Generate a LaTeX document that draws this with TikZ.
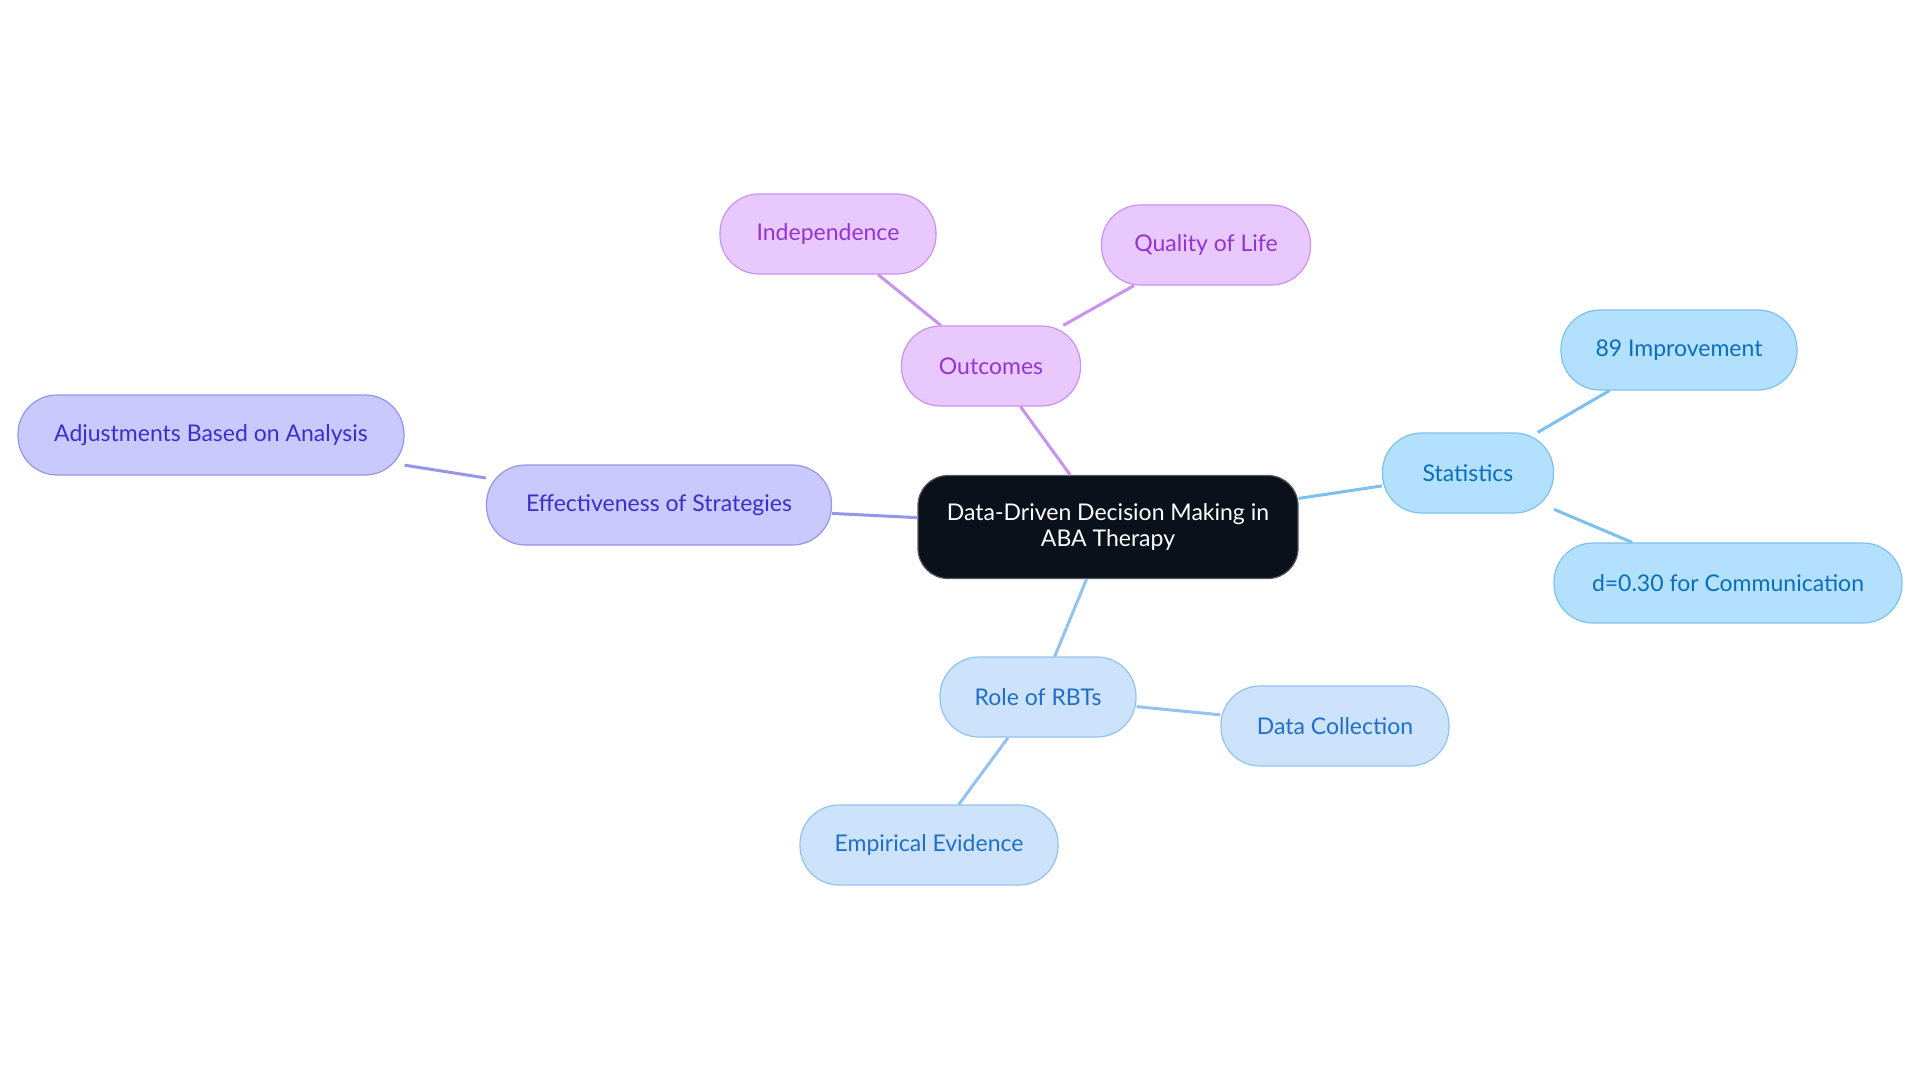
\documentclass[tikz,border=0pt]{standalone}
\usepackage{fontspec}
\setmainfont{Lato}
\begin{document}
\begin{tikzpicture}[x=1pt,y=-1pt,
  box/.style={rectangle,rounded corners=39pt,minimum height=80pt,inner sep=0pt,line width=1.2pt,font=\fontsize{23}{26}\selectfont,align=center},
  sky/.style={box,fill=sky1,draw=sky2,text=sky3},
  pur/.style={box,fill=pur1,draw=pur2,text=pur3},
  ind/.style={box,fill=ind1,draw=ind2,text=ind3},
  blu/.style={box,fill=blu1,draw=blu2,text=blu3},
  edge/.style={line width=3pt}]
\definecolor{sky1}{HTML}{B3E0FD}\definecolor{sky2}{HTML}{7CC0F0}\definecolor{sky3}{HTML}{0A6EBD}
\definecolor{pur1}{HTML}{E9C9FD}\definecolor{pur2}{HTML}{C992F0}\definecolor{pur3}{HTML}{9333D1}
\definecolor{ind1}{HTML}{C9C9FD}\definecolor{ind2}{HTML}{9595EC}\definecolor{ind3}{HTML}{3A2FC9}
\definecolor{blu1}{HTML}{CDE3FB}\definecolor{blu2}{HTML}{93C2F0}\definecolor{blu3}{HTML}{1F6FC9}
\definecolor{dark}{HTML}{0B111B}
\useasboundingbox (0,0) rectangle (1920,1083);
\node[box,fill=dark,draw=dark!70,text=white,minimum width=380pt,minimum height=103pt,rounded corners=30pt] (c) at (1108,527) {Data-Driven Decision Making in\\ABA Therapy};
\node[sky,minimum width=171pt] (st) at (1468,473) {Statistics};
\node[sky,minimum width=236pt] (im) at (1679,350) {89 Improvement};
\node[sky,minimum width=348pt] (dd) at (1728,583) {d=0.30 for Communication};
\node[pur,minimum width=179pt] (ou) at (991,366) {Outcomes};
\node[pur,minimum width=216pt] (in) at (828,234) {Independence};
\node[pur,minimum width=209pt] (ql) at (1206,245) {Quality of Life};
\node[ind,minimum width=345pt] (ef) at (659,505) {Effectiveness of Strategies};
\node[ind,minimum width=386pt] (ad) at (211,435) {Adjustments Based on Analysis};
\node[blu,minimum width=196pt] (rb) at (1038,697) {Role of RBTs};
\node[blu,minimum width=228pt] (dc) at (1335,726) {Data Collection};
\node[blu,minimum width=258pt] (em) at (929,845) {Empirical Evidence};
\draw[edge,sky2] (c)--(st) (st)--(im) (st)--(dd);
\draw[edge,pur2] (c)--(ou) (ou)--(in) (ou)--(ql);
\draw[edge,ind2] (c)--(ef) (ef)--(ad);
\draw[edge,blu2] (c)--(rb) (rb)--(dc) (rb)--(em);
\end{tikzpicture}
\end{document}
